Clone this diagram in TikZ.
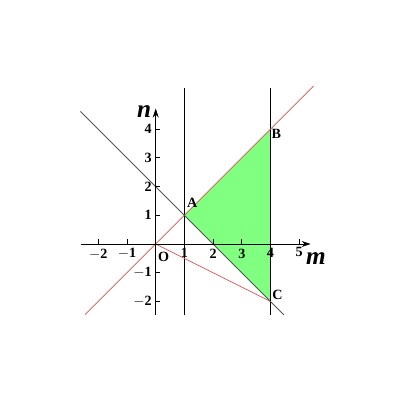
\documentclass[tikz,border=0pt]{standalone}
\usepackage{fontspec}
\setmainfont{Liberation Serif}
\usetikzlibrary{arrows.meta}
\definecolor{redline}{RGB}{215,80,80}
\definecolor{grayline}{RGB}{85,85,85}
\definecolor{fillgreen}{RGB}{128,255,128}
\tikzset{
  axis/.style={black, line width=0.8pt, -{Stealth[length=9pt,width=6pt]}},
  vline/.style={black, line width=1pt},
  rline/.style={redline, line width=0.7pt},
  gline/.style={grayline, line width=0.9pt},
  ticklbl/.style={font=\fontsize{14}{16}\selectfont\bfseries, inner sep=1pt},
  axlbl/.style={font=\fontsize{25}{27}\selectfont\bfseries\itshape, inner sep=0pt},
  ptlbl/.style={font=\fontsize{14}{16}\selectfont\bfseries, inner sep=1pt}
}
\begin{document}
\begin{tikzpicture}[x=1cm,y=1cm]
\useasboundingbox (-5.425,-5.575) rectangle (8.652,8.502);
% points
\coordinate (O) at (0,0);
\coordinate (A) at (1,1);
\coordinate (B) at (4,4);
\coordinate (C) at (4,-2);
% region
\fill[fillgreen] (A) -- (B) -- (C) -- cycle;
% line ends
\coordinate (xs) at (-2.61,0);
\coordinate (xe) at (5.4,0);
\coordinate (ys) at (0,-2.47);
\coordinate (ye) at (0,4.72);
\coordinate (v1t) at (1,5.45);
\coordinate (v1b) at (1,-2.47);
\coordinate (v4t) at (4,5.45);
\coordinate (v4b) at (4,-2.47);
\coordinate (rs) at (-2.46,-2.46);
\coordinate (re) at (5.5,5.5);
\coordinate (gs) at (-2.62,4.62);
\coordinate (ge) at (4.47,-2.47);
% lines
\draw[vline] (v1b) -- (v1t);
\draw[vline] (v4b) -- (v4t);
\draw[rline] (rs) -- (re);
\draw[rline] (O) -- (C);
\draw[gline] (gs) -- (ge);
% axes
\draw[axis] (xs) -- (xe);
\draw[axis] (ys) -- (ye);
% ticks
\foreach \i in {-2,-1,1,2,3,4,5} {
  \draw[line width=0.8pt] (\i,0) -- (\i,0.16);
}
\foreach \j in {-2,-1,1,2,3,4} {
  \draw[line width=0.8pt] (0,\j) -- (0.16,\j);
}
% tick labels
\foreach \i/\t in {-2/$-$2,-1/$-$1,1/1,2/2,3/3,4/4} {
  \node[ticklbl, anchor=north] (tx\i) at (\i,-0.12) {\t};
}
\node[ticklbl, anchor=north] (tx5) at (5,-0.06) {5};
\foreach \j/\t in {-2/$-$2,-1/$-$1,1/1,2/2,3/3,4/4} {
  \node[ticklbl, anchor=east] (ty\j) at (-0.1,\j) {\t};
}
\node[ticklbl] (Olbl) at (0.28,-0.44) {O};
% axis labels
\node[axlbl] (mlbl) at (5.58,-0.5) {m};
\node[axlbl] (nlbl) at (-0.4,4.62) {n};
% point labels
\node[ptlbl] (Albl) at (1.27,1.42) {A};
\node[ptlbl] (Blbl) at (4.2,3.84) {B};
\node[ptlbl] (Clbl) at (4.24,-1.78) {C};
\end{tikzpicture}
\end{document}
